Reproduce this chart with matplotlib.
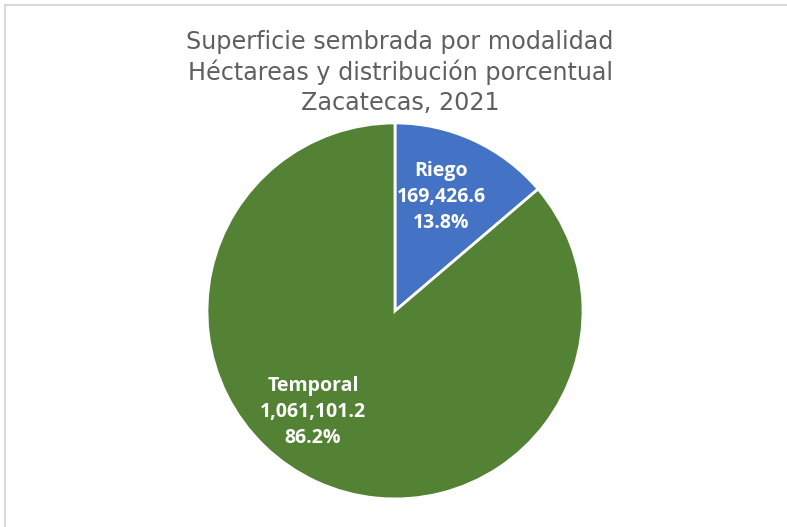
import matplotlib
matplotlib.use("Agg")
import matplotlib.pyplot as plt
from matplotlib.patches import Rectangle

# datos
modalidades = ["Riego", "Temporal"]
hectareas = [169426.6, 1061101.2]
colores = ["#4472C4", "#548235"]
titulo = "Superficie sembrada por modalidad\nHéctareas y distribución porcentual\nZacatecas, 2021"

plt.rcParams['font.family'] = ['Open Sans', 'DejaVu Sans']

fig = plt.figure(figsize=(7.87, 5.27), dpi=100)

# marco gris
fig.patches.append(Rectangle((5/787, -0.05), 1.1, 1 - 5/527 + 0.05, transform=fig.transFigure,
                             fill=False, edgecolor="#D9D9D9", linewidth=1.5))

fig.text(400/787, 1 - 72.5/527, titulo, ha='center', va='center', fontsize=17.2,
         color="#5F5F5F", linespacing=1.27, family=['DejaVu Sans'])

ax = fig.add_axes([0.2630, 0.0532, 0.4778, 0.7135])
ax.pie(hectareas, colors=colores, startangle=90, counterclock=False, radius=1,
       wedgeprops=dict(edgecolor='white', linewidth=2))
ax.set_xlim(-1, 1)
ax.set_ylim(-1, 1)
ax.set_aspect('equal')
ax.axis('off')

total = sum(hectareas)
posiciones = [(0.245, 0.605), (-0.436, -0.535)]
for nombre, valor, (x, y) in zip(modalidades, hectareas, posiciones):
    etiqueta = f"{nombre}\n{valor:,.1f}\n{valor / total * 100:.1f}%"
    ax.text(x, y, etiqueta, ha='center', va='center', color='white',
            fontsize=14, fontweight='bold', linespacing=1.4)

fig.savefig("out.png", dpi=100)
